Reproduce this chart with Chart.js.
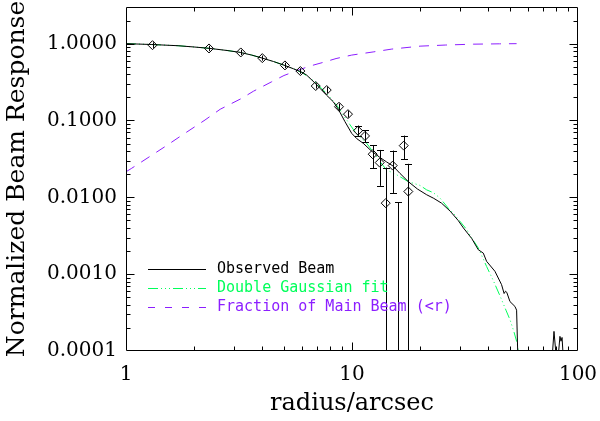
<!DOCTYPE html>
<html lang="en">
  <head>
    <meta charset="utf-8" />
    <title>Normalized Beam Response</title>
    <script src="https://cdn.jsdelivr.net/npm/chart.js@4.4.0/dist/chart.umd.min.js"></script>
    <style>
      body { margin: 0; background: #fff; }
      #wrap { width: 600px; height: 421px; }
    </style>
  </head>
  <body>
    <div id="wrap"><canvas id="beamChart"></canvas></div>

    <script>
      // observed beam profile (solid black)
      var beamR = [1, 1.3, 1.7, 2, 2.33, 2.8, 3.2, 3.6, 4, 4.5, 5, 5.5, 6, 6.3, 6.8, 7.22, 7.7, 8.27,
        8.7, 9.31, 9.97, 10.5, 11.2, 12.2, 13.3, 14.2, 15.2, 16.3, 17.75, 19.5, 21.4, 23, 24.9, 27.2,
        29.5, 31.1, 33.9, 36.2, 38.1, 39.4, 42.9, 45.9, 47.1, 47.8, 48.4, 50, 52.6, 53.5, 54.2,
        76.8, 78.3, 80.2, 81.6, 83.2, 84.1, 85, 86.1, 100];
      var beamY = [1.0, 0.975, 0.94, 0.905, 0.87, 0.815, 0.77, 0.71, 0.65, 0.585, 0.525, 0.472, 0.425, 0.39, 0.315, 0.262, 0.215, 0.175,
        0.14, 0.0965, 0.068, 0.058, 0.0506, 0.040, 0.033, 0.029, 0.0255, 0.0205, 0.016, 0.0128, 0.0108, 0.0097, 0.0084, 0.0066,
        0.005, 0.004, 0.0029, 0.00208, 0.00188, 0.00147, 0.00109, 0.00073, 0.00056, 0.0006, 0.00058, 0.00044, 0.00038, 0.00034, 0.00008,
        0.00008, 0.00018, 0.00008, 0.00008, 0.000155, 0.000134, 0.00015, 0.00008, 0.00008];

      // double gaussian fit (green dash-dot-dot-dot)
      var fitR = [1, 1.3, 1.7, 2, 2.33, 2.8, 3.2, 3.6, 4, 4.5, 5, 5.5, 6, 6.5, 7, 7.5, 8, 8.6, 9.2, 9.8,
        10.5, 11.6, 12.5, 13.3, 14.2, 15.8, 17.75, 20, 21.4, 22.9, 24.5, 26.7, 28.1, 30, 32.2, 34, 36.2,
        39.4, 42, 45.2, 48, 50, 52, 53.5, 55];
      var fitY = [1.0, 0.975, 0.94, 0.905, 0.87, 0.815, 0.77, 0.71, 0.65, 0.585, 0.525, 0.472, 0.42, 0.36, 0.30, 0.245, 0.20, 0.155, 0.115, 0.088,
        0.066, 0.0506, 0.038, 0.0292, 0.0228, 0.0196, 0.016, 0.0143, 0.0125, 0.0115, 0.0098, 0.0072, 0.0062, 0.0049, 0.0038, 0.0029, 0.0022,
        0.00126, 0.00085, 0.00052, 0.00034, 0.000256, 0.00018, 0.000134, 0.00009];

      // fraction of main beam inside r (purple dashed)
      var fracR = [1, 1.06, 1.488, 1.73, 2.237, 2.61, 3.25, 3.66, 4.41, 5.0, 5.79, 6.5, 7.6, 8.5, 9.97, 12.4, 15, 20, 26, 34.4, 45, 53.5];
      var fracY = [0.0215, 0.0239, 0.0457, 0.0616, 0.1015, 0.14, 0.194, 0.24, 0.319, 0.385, 0.453, 0.51, 0.58, 0.64, 0.71, 0.78, 0.85, 0.928, 0.96, 0.985, 0.995, 1.0];

      // measured points with error bars (diamonds)
      var ptR = [1.31, 2.33, 3.22, 4.01, 5.05, 5.91, 6.91, 7.73, 8.76, 9.6, 10.63, 11.42, 12.35, 13.26, 14.1, 15.14, 15.93, 16.94, 17.75];
      var ptY = [0.956, 0.866, 0.769, 0.648, 0.521, 0.44, 0.281, 0.249, 0.151, 0.121, 0.0737, 0.0629, 0.0364, 0.0283, 0.0084, 0.0259, 0.00005, 0.0471, 0.0119];
      var ptLo = [0.88, 0.8, 0.71, 0.6, 0.48, 0.405, 0.26, 0.228, 0.137, 0.109, 0.063, 0.052, 0.024, 0.0141, 0.000001, 0.0114, 0.000001, 0.0313, 0.000001];
      var ptHi = [1.04, 0.94, 0.83, 0.7, 0.565, 0.478, 0.305, 0.272, 0.166, 0.134, 0.086, 0.075, 0.048, 0.0414, 0.0244, 0.0406, 0.0086, 0.0636, 0.0273];

      var xTicks = [1, 10, 100];
      var xTickLabels = ["1", "10", "100"];
      var yTicks = [0.0001, 0.001, 0.01, 0.1, 1];
      var yTickLabels = ["0.0001", "0.0010", "0.0100", "0.1000", "1.0000"];

      var green = "rgb(0, 255, 90)";
      var purple = "rgb(140, 30, 255)";

      let pairs = (xs, ys) => xs.map((x, i) => ({ x: x, y: ys[i] }));

      // error bars, drawn through the scales
      let errorBars = {
        id: "errorBars",
        afterDatasetsDraw(chart) {
          let { ctx, chartArea: a, scales } = chart;
          ctx.save();
          ctx.beginPath();
          ctx.rect(a.left, a.top, a.right - a.left, a.bottom - a.top);
          ctx.clip();
          ctx.strokeStyle = "#000";
          ctx.lineWidth = 1;
          ptR.forEach((r, i) => {
            let x = Math.round(scales.x.getPixelForValue(r)) + 0.5;
            let yc = scales.y.getPixelForValue(ptY[i]);
            let y1 = scales.y.getPixelForValue(ptHi[i]);
            let y2 = scales.y.getPixelForValue(ptLo[i]);
            ctx.beginPath();
            ctx.moveTo(x, y1);
            ctx.lineTo(x, y2);
            if (yc - y1 > 4) {
              ctx.moveTo(x - 3.5, Math.round(y1) + 0.5);
              ctx.lineTo(x + 3.5, Math.round(y1) + 0.5);
            }
            if (y2 - yc > 4 && y2 < a.bottom) {
              ctx.moveTo(x - 3.5, Math.round(y2) + 0.5);
              ctx.lineTo(x + 3.5, Math.round(y2) + 0.5);
            }
            ctx.stroke();
          });
          ctx.restore();
        },
      };

      // box with inward ticks on all four sides
      let frame = {
        id: "frame",
        afterDraw(chart) {
          let { ctx, chartArea: a, scales } = chart;
          let L = a.left + 0.5, R = a.right - 0.5, T = a.top + 0.5, B = a.bottom - 0.5;
          ctx.save();
          ctx.strokeStyle = "#000";
          ctx.lineWidth = 1;
          ctx.beginPath();
          ctx.rect(L, T, R - L, B - T);

          [1, 10].forEach((d) => {
            for (let k = 1; k <= 9; k++) {
              let v = d * k;
              let len = k == 1 ? 8 : 4;
              let px = Math.round(scales.x.getPixelForValue(v)) + 0.5;
              if (px <= L || px >= R) continue;
              ctx.moveTo(px, B); ctx.lineTo(px, B - len);
              ctx.moveTo(px, T); ctx.lineTo(px, T + len);
            }
          });
          [0.0001, 0.001, 0.01, 0.1, 1].forEach((d) => {
            for (let k = 1; k <= 9; k++) {
              let v = d * k;
              let len = k == 1 ? 8 : 4;
              let py = Math.round(scales.y.getPixelForValue(v)) + 0.5;
              if (py <= T || py >= B) continue;
              ctx.moveTo(L, py); ctx.lineTo(L + len, py);
              ctx.moveTo(R, py); ctx.lineTo(R - len, py);
            }
          });
          ctx.stroke();
          ctx.restore();
        },
      };

      // legend inside the plot, lower left
      let innerLegend = {
        id: "innerLegend",
        afterDraw(chart) {
          let { ctx, chartArea: a } = chart;
          let rows = [
            { text: "Observed Beam", color: "#000", dash: [] },
            { text: "Double Gaussian fit", color: green, dash: [10, 3, 1, 3, 1, 3, 1, 3] },
            { text: "Fraction of Main Beam (<r)", color: purple, dash: [7, 10] },
          ];
          ctx.save();
          ctx.font = "15px 'DejaVu Sans Mono'";
          ctx.textBaseline = "middle";
          ctx.lineWidth = 1;
          rows.forEach((row, i) => {
            let y = a.top + 262 + i * 19;
            ctx.strokeStyle = row.color;
            ctx.setLineDash(row.dash);
            ctx.beginPath();
            ctx.moveTo(a.left + 22, y + 0.5);
            ctx.lineTo(a.left + 80, y + 0.5);
            ctx.stroke();
            ctx.fillStyle = row.color;
            ctx.fillText(row.text, a.left + 91, y);
          });
          ctx.restore();
        },
      };

      let showBeamChart = () => {
        new Chart(document.getElementById("beamChart"), {
          type: "scatter",
          data: {
            datasets: [
              {
                label: "Observed points",
                data: pairs(ptR, ptY),
                pointStyle: "rectRot",
                pointRadius: 4.5,
                pointBorderWidth: 1,
                pointBorderColor: "#000",
                pointBackgroundColor: "rgba(0,0,0,0)",
              },
              {
                label: "Observed Beam",
                data: pairs(beamR, beamY),
                showLine: true,
                pointRadius: 0,
                borderColor: "#000",
                borderWidth: 1,
              },
              {
                label: "Double Gaussian fit",
                data: pairs(fitR, fitY),
                showLine: true,
                pointRadius: 0,
                borderColor: green,
                borderWidth: 1,
                borderDash: [10, 3, 1, 3, 1, 3, 1, 3],
              },
              {
                label: "Fraction of Main Beam (<r)",
                data: pairs(fracR, fracY),
                showLine: true,
                pointRadius: 0,
                borderColor: purple,
                borderWidth: 1,
                borderDash: [10, 8],
              },
            ],
          },
          options: {
            responsive: true,
            maintainAspectRatio: false,
            animation: false,
            layout: { padding: { top: 7, right: 22, left: 0, bottom: 0 } },
            plugins: { legend: { display: false }, tooltip: { enabled: false } },
            scales: {
              x: {
                type: "logarithmic",
                min: 1,
                max: 100,
                afterBuildTicks: (s) => { s.ticks = xTicks.map((v) => ({ value: v })); },
                afterFit: (s) => {
                  s.height = 70;
                  s.paddingLeft = 0;
                  s.paddingRight = 0;
                },
                grid: { display: false, drawTicks: false },
                border: { display: false },
                ticks: {
                  color: "#000",
                  font: { family: "DejaVu Serif", size: 20 },
                  padding: 12,
                  maxRotation: 0,
                  autoSkip: false,
                  callback: (v, i) => xTickLabels[i],
                },
                title: {
                  display: true,
                  text: "radius/arcsec",
                  color: "#000",
                  font: { family: "DejaVu Serif", size: 24 },
                  padding: { top: 0, bottom: 3 },
                },
              },
              y: {
                type: "logarithmic",
                min: 0.0001,
                max: 3,
                afterBuildTicks: (s) => { s.ticks = yTicks.map((v) => ({ value: v })); },
                afterFit: (s) => {
                  s.width = 126;
                  s.paddingTop = 0;
                  s.paddingBottom = 0;
                },
                grid: { display: false, drawTicks: false },
                border: { display: false },
                ticks: {
                  color: "#000",
                  font: { family: "DejaVu Serif", size: 20 },
                  padding: 9,
                  autoSkip: false,
                  callback: (v, i) => yTickLabels[i],
                },
                title: {
                  display: true,
                  text: "Normalized Beam Response",
                  color: "#000",
                  font: { family: "DejaVu Serif", size: 25 },
                  padding: { top: 2, bottom: 0 },
                },
              },
            },
          },
          plugins: [errorBars, frame, innerLegend],
        });
      };

      showBeamChart();
    </script>
  </body>
</html>
